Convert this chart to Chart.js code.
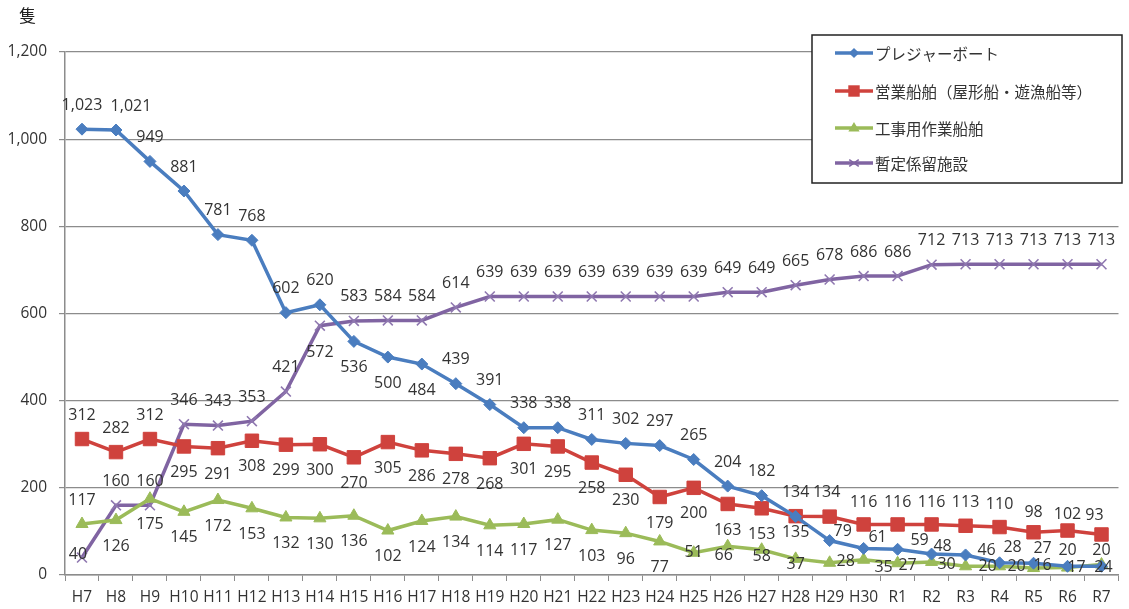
<!DOCTYPE html>
<html><head><meta charset="utf-8">
<script src="https://cdn.jsdelivr.net/npm/chart.js@4"></script>
<style>html,body{margin:0;padding:0;background:#fff}#wrap{position:relative;width:1129px;height:609px}</style>
</head><body><div id="wrap"><canvas id="c" width="1129" height="609"></canvas></div>
<script>
// ---- data ----
const categories = ['H7','H8','H9','H10','H11','H12','H13','H14','H15','H16','H17','H18','H19','H20','H21','H22','H23','H24','H25','H26','H27','H28','H29','H30','R1','R2','R3','R4','R5','R6','R7'];
const seriesNames = ['プレジャーボート','営業船舶（屋形船・遊漁船等）','工事用作業船舶','暫定係留施設'];
const pleasureBoats   = [1023,1021,949,881,781,768,602,620,536,500,484,439,391,338,338,311,302,297,265,204,182,134,79,61,59,48,46,28,27,20,20];
const commercialBoats = [312,282,312,295,291,308,299,300,270,305,286,278,268,301,295,258,230,179,200,163,153,135,134,116,116,116,113,110,98,102,93];
const workBoats       = [117,126,175,145,172,153,132,130,136,102,124,134,114,117,127,103,96,77,51,66,58,37,28,35,27,30,20,20,16,17,24];
const mooringFacility = [40,160,160,346,343,353,421,572,583,584,584,614,639,639,639,639,639,639,639,649,649,665,678,686,686,712,713,713,713,713,713];
const yMin = 0, yMax = 1200, yStep = 200;
const unitLabel = '隻';

// ---- label placement (style, not data) ----
const labelPlacement = [
  {dy:-24, over:{1:[15,-24],8:[0,26],9:[0,26],10:[0,26],22:[13,-9],23:[14,-11],24:[22,-9],25:[11,-8],26:[21,-5],27:[13,-15],28:[9,-15],29:[0,-16],30:[0,-16]}},
  {dy:26, over:{0:[0,-24],1:[0,-24],2:[0,-24],21:[0,16],22:[-3,-24],23:[0,-22],24:[0,-22],25:[0,-22],26:[0,-23],27:[0,-23],28:[0,-20],29:[0,-16],30:[-7,-19]}},
  {dy:26, over:{0:[0,-24],18:[0,0],19:[-4,9],20:[0,7],21:[0,6],22:[16,-1],23:[20,8],24:[10,2],25:[15,3],26:[22,0],27:[17,0],28:[9,-3],29:[9,2],30:[2,7]}},
  {dy:-24, over:{0:[-4,-3],7:[0,27]}}
];

const FONT = '"Open Sans", "Noto Sans CJK JP", sans-serif';
const colors = ['#4A7DBF','#CF423D','#9BBB59','#8064A2'];
const markers = ['rectRot','rect','triangle','crossRot'];
const radii = [6,9.5,7,7];

function drawMarker(ctx, style, x, y, r, color){
  ctx.save();
  ctx.fillStyle = color; ctx.strokeStyle = color;
  ctx.beginPath();
  if (style==='rectRot'){ ctx.moveTo(x, y-r); ctx.lineTo(x+r, y); ctx.lineTo(x, y+r); ctx.lineTo(x-r, y); ctx.closePath(); ctx.fill(); }
  else if (style==='rect'){ const s=r*Math.SQRT1_2; ctx.rect(x-s,y-s,2*s,2*s); ctx.fill(); }
  else if (style==='triangle'){ ctx.moveTo(x, y-r); ctx.lineTo(x+r*0.95, y+r*0.6); ctx.lineTo(x-r*0.95, y+r*0.6); ctx.closePath(); ctx.fill(); }
  else { const s=r*0.8; ctx.lineWidth=1.6; ctx.moveTo(x-s,y-s*0.7); ctx.lineTo(x+s,y+s*0.7); ctx.moveTo(x+s,y-s*0.7); ctx.lineTo(x-s,y+s*0.7); ctx.stroke(); }
  ctx.restore();
}

const labelsPlugin = {
  id:'valueLabels',
  afterDatasetsDraw(chart){
    const ctx = chart.ctx, area = chart.chartArea;
    ctx.save();
    ctx.font = '16px ' + FONT;
    ctx.fillStyle = '#333';
    ctx.textAlign = 'center';
    ctx.textBaseline = 'middle';
    chart.data.datasets.forEach((ds, di) => {
      const meta = chart.getDatasetMeta(di);
      const p = labelPlacement[di];
      meta.data.forEach((pt, i) => {
        const o = p.over[i] || [0, p.dy];
        let y = pt.y + o[1];
        if (y > area.bottom - 8) y = area.bottom - 8;
        ctx.fillText(ds.data[i].toLocaleString('en-US'), pt.x + o[0], y);
      });
    });
    ctx.restore();
  }
};

const decorPlugin = {
  id:'decor',
  afterDraw(chart){
    const ctx = chart.ctx;
    ctx.save();
    ctx.fillStyle = '#222';
    ctx.font = '17px "Noto Sans CJK JP", sans-serif';
    ctx.textBaseline = 'middle';
    ctx.textAlign = 'left';
    ctx.fillText(unitLabel, 19, 16);
    // legend box
    const bx=812, by=35, bw=310, bh=148;
    ctx.fillStyle='#fff'; ctx.fillRect(bx,by,bw,bh);
    ctx.strokeStyle='#222'; ctx.lineWidth=1.5; ctx.strokeRect(bx,by,bw,bh);
    const rows=[53,91,128,163];
    chart.data.datasets.forEach((ds, di) => {
      const y = rows[di];
      ctx.strokeStyle = colors[di]; ctx.lineWidth = 3.5;
      ctx.beginPath(); ctx.moveTo(835,y); ctx.lineTo(873,y); ctx.stroke();
      drawMarker(ctx, markers[di], 854, y, radii[di]*0.85, colors[di]);
      ctx.fillStyle='#333';
      ctx.font = '15.5px "Noto Sans CJK JP", sans-serif';
      ctx.fillText(ds.label, 875, y+1);
    });
    ctx.restore();
  }
};

const seriesData = [pleasureBoats, commercialBoats, workBoats, mooringFacility];
new Chart(document.getElementById('c'), {
  type:'line',
  data:{
    labels: categories,
    datasets: seriesData.map((d, i) => ({
      label: seriesNames[i],
      data: d,
      borderColor: colors[i],
      backgroundColor: colors[i],
      borderWidth: 3.5,
      pointStyle: markers[i],
      pointRadius: radii[i],
      pointBorderWidth: i===3 ? 1.6 : 1,
      pointBorderColor: i===3 ? '#8f78b0' : colors[i],
      pointBackgroundColor: colors[i],
      tension: 0,
      fill: false
    }))
  },
  options:{
    responsive:false,
    devicePixelRatio:1,
    animation:false,
    layout:{padding:{top:52,right:4,left:0,bottom:0}},
    plugins:{legend:{display:false}, tooltip:{enabled:false}},
    scales:{
      x:{
        offset:true,
        afterFit(s){ s.height = 34; },
        grid:{display:true, drawOnChartArea:false, drawTicks:true, tickLength:6, color:'#8c8c8c', offset:true},
        border:{display:true, color:'#8c8c8c', width:1.5},
        ticks:{color:'#333', font:{family:FONT, size:15.5}, padding:7, maxRotation:0, autoSkip:false}
      },
      y:{
        min:yMin, max:yMax,
        afterFit(s){ s.width = 65; },
        grid:{color:'#8c8c8c', lineWidth:1.2, tickLength:6, drawTicks:true},
        border:{display:true, color:'#8c8c8c', width:1.5},
        ticks:{stepSize:yStep, color:'#333', font:{family:FONT, size:15.5}, padding:12}
      }
    }
  },
  plugins:[labelsPlugin, decorPlugin]
});
</script></body></html>
